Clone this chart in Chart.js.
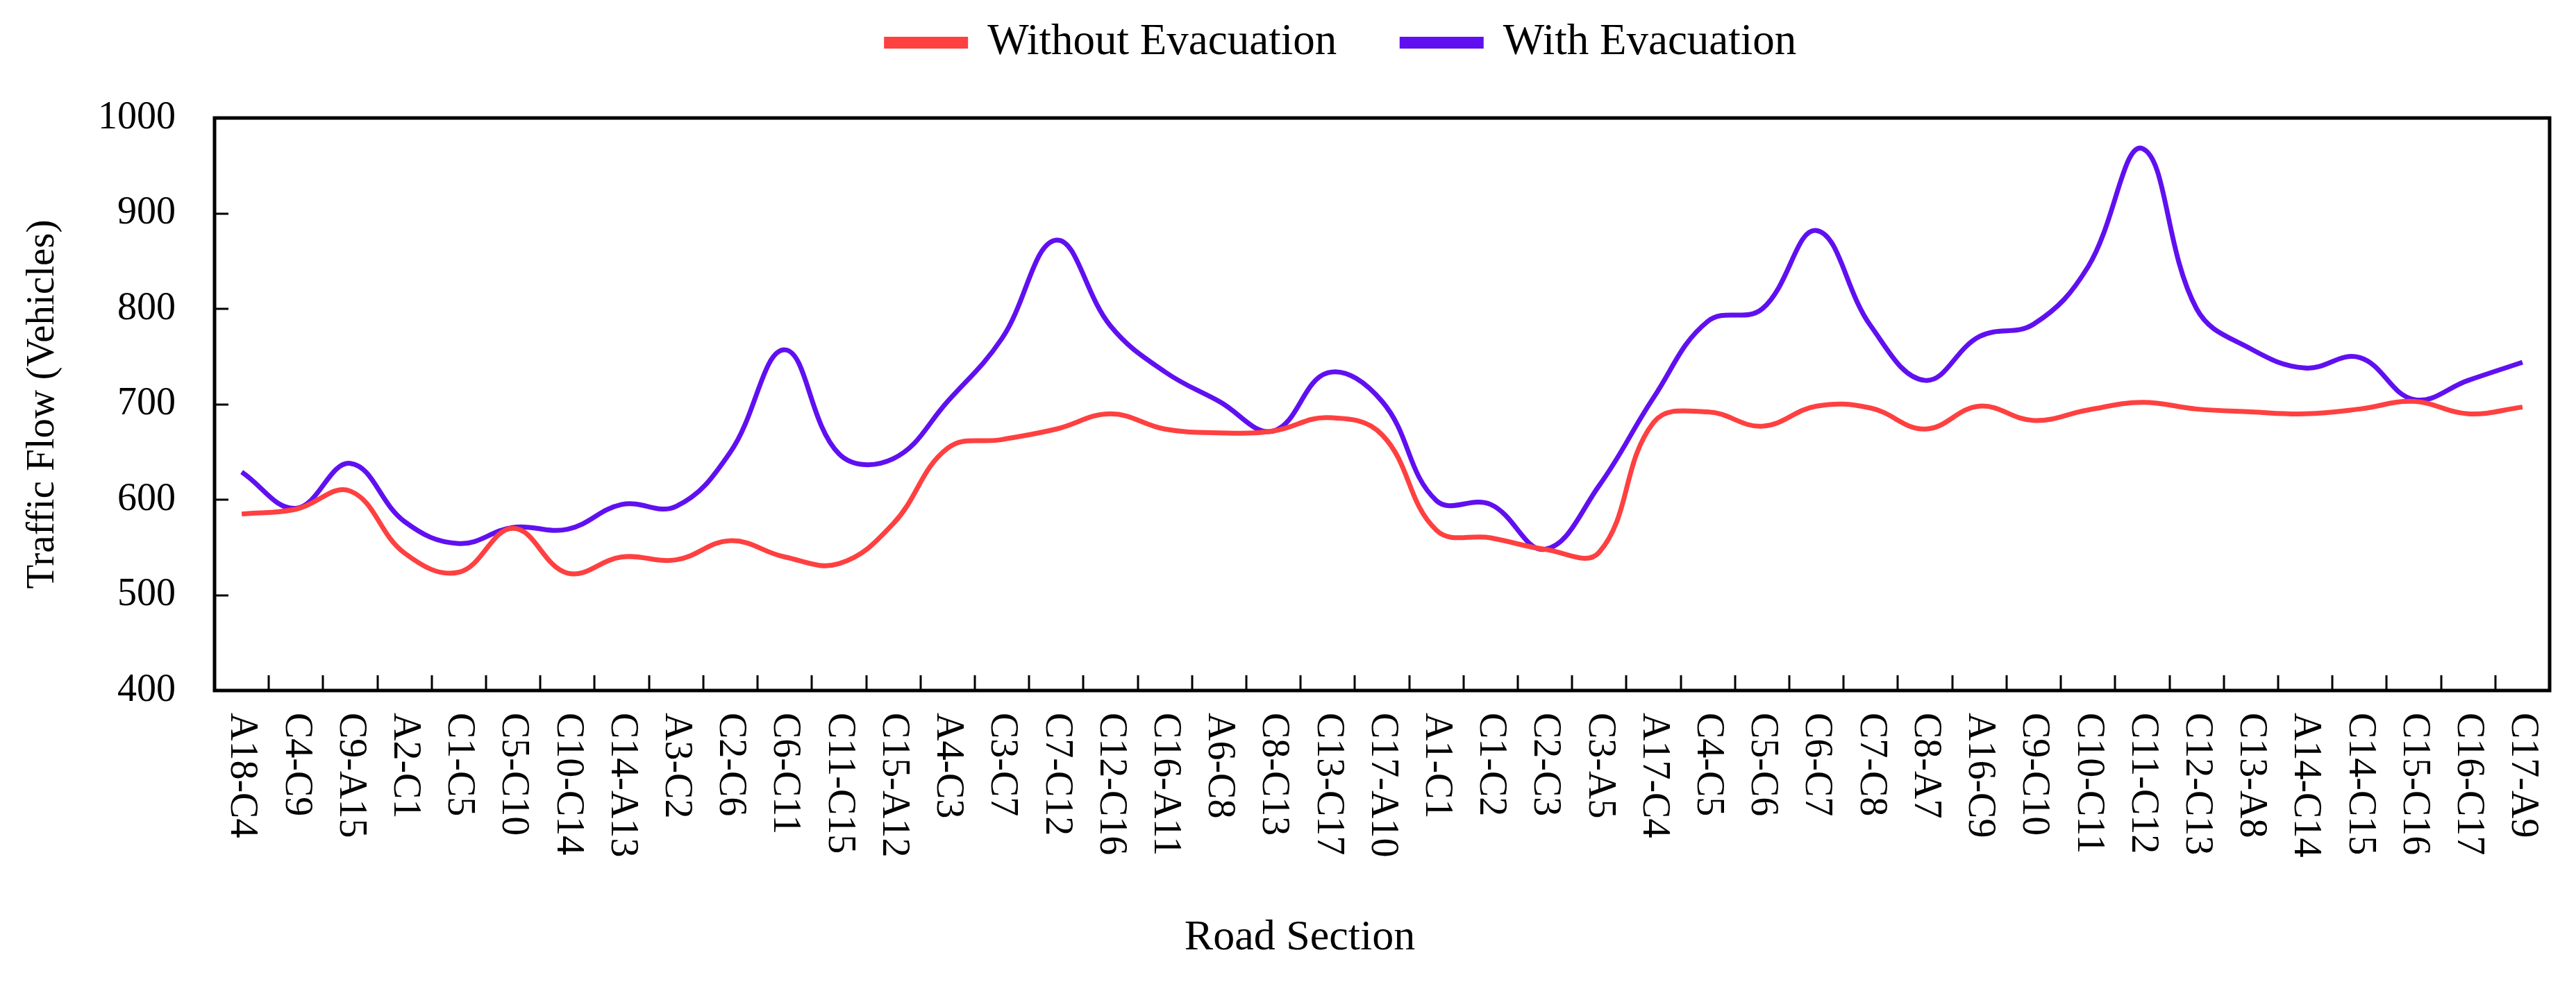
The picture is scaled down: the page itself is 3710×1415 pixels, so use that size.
<!DOCTYPE html>
<html>
<head>
<meta charset="utf-8">
<script src="https://cdn.jsdelivr.net/npm/chart.js@4"></script>
<style>
html,body{margin:0;padding:0;background:#fff}
#wrap{width:3710px;height:1415px;position:relative}
</style>
</head>
<body>
<div id="wrap"><canvas id="chart"></canvas></div>
<script>

// road sections on the x axis
const sections = ["A18-C4","C4-C9","C9-A15","A2-C1","C1-C5","C5-C10","C10-C14","C14-A13","A3-C2","C2-C6",
"C6-C11","C11-C15","C15-A12","A4-C3","C3-C7","C7-C12","C12-C16","C16-A11","A6-C8","C8-C13",
"C13-C17","C17-A10","A1-C1","C1-C2","C2-C3","C3-A5","A17-C4","C4-C5","C5-C6","C6-C7",
"C7-C8","C8-A7","A16-C9","C9-C10","C10-C11","C11-C12","C12-C13","C13-A8","A14-C14","C14-C15",
"C15-C16","C16-C17","C17-A9"]

const withoutEvac = [585,590,609,544,524,570,523,540,537,557,
540,533,575,654,663,674,690,674,670,672,
686,668,568,560,548,545,681,692,677,698,
696,674,698,683,694,702,695,692,690,695,
703,690,697]

const withEvac = [629,591,638,577,554,571,569,595,593,650,
757,648,643,703,769,872,782,734,703,672,
733,703,599,595,548,615,707,787,800,882,
782,725,771,784,844,968,800,758,738,749,
705,725,744]

const yTicks = [400,500,600,700,800,900,1000]

const xTitle = "Road Section"

const serif = "'Liberation Serif', 'Times New Roman', serif"

// legend band height and a small nudge of the legend row
const legendSpace = {
id:'legendSpace',
afterInit(chart){
const lg = chart.legend
if(!lg) return
const fit = lg.fit
lg.fit = function(){
fit.call(this)
this.height = 170
}
const draw = lg.draw
lg.draw = function(area){
const c = this.ctx
c.save()
c.translate(96, -64)
draw.call(this, area)
c.restore()
}
}
}

// frame, inward tick marks, vertical category labels and x title
const frame = {
id:'frame',
afterDraw(chart){
const ctx = chart.ctx
const a = chart.chartArea
const x = chart.scales.x
const y = chart.scales.y
ctx.save()
ctx.strokeStyle = "#000"
ctx.lineWidth = 3
ctx.beginPath()
for(let i = 1; i < sections.length; i++){
const bx = Math.round((x.getPixelForValue(i-1) + x.getPixelForValue(i)) / 2)
ctx.moveTo(bx, a.bottom)
ctx.lineTo(bx, a.bottom - 22)
}
yTicks.forEach(v => {
const py = Math.round(y.getPixelForValue(v))
ctx.moveTo(a.left, py)
ctx.lineTo(a.left + 20, py)
})
ctx.stroke()

ctx.lineWidth = 5
ctx.strokeRect(a.left, a.top, a.right - a.left, a.bottom - a.top)

ctx.fillStyle = "#000"
ctx.font = "56px " + serif
ctx.textAlign = "left"
ctx.textBaseline = "middle"
sections.forEach((s,i) => {
ctx.save()
ctx.translate(x.getPixelForValue(i), a.bottom + 32)
ctx.rotate(Math.PI / 2)
ctx.fillText(s, 0, 0)
ctx.restore()
})

ctx.font = "62px " + serif
ctx.textAlign = "center"
ctx.fillText(xTitle, chart.width / 2 + 17, 1352)
ctx.restore()
}
}

new Chart(document.getElementById("chart"),{
type:'line',
data:{
labels:sections,
datasets:[
{
label:"Without Evacuation",
data:withoutEvac,
borderColor:"#FF4040",
backgroundColor:"#FF4040",
borderWidth:7,
pointRadius:0,
tension:0.4,
fill:false
},
{
label:"With Evacuation",
data:withEvac,
borderColor:"#6010F0",
backgroundColor:"#6010F0",
borderWidth:7,
pointRadius:0,
tension:0.4,
fill:false
}
]
},
options:{
responsive:true,
maintainAspectRatio:false,
animation:false,
devicePixelRatio:1,
layout:{padding:{top:0,left:0,right:38,bottom:0}},
plugins:{
legend:{
position:'top',
labels:{
boxWidth:114,
boxHeight:10,
padding:94,
color:"#000",
font:{family:serif,size:63}
}
},
tooltip:{enabled:false}
},
scales:{
x:{
type:'category',
offset:true,
grid:{display:false,drawTicks:false},
border:{display:false},
ticks:{display:false},
afterFit(s){ s.height = 420 }
},
y:{
min:400,
max:1000,
grid:{display:false,drawTicks:false},
border:{display:false},
ticks:{
stepSize:100,
padding:56,
color:"#000",
font:{family:serif,size:56},
callback:v => String(v)
},
title:{
display:true,
text:"Traffic Flow (Vehicles)",
color:"#000",
font:{family:serif,size:57},
padding:{top:28,bottom:0}
},
afterFit(s){ s.width = 309 }
}
}
},
plugins:[legendSpace,frame]
})

</script>
</body>
</html>
